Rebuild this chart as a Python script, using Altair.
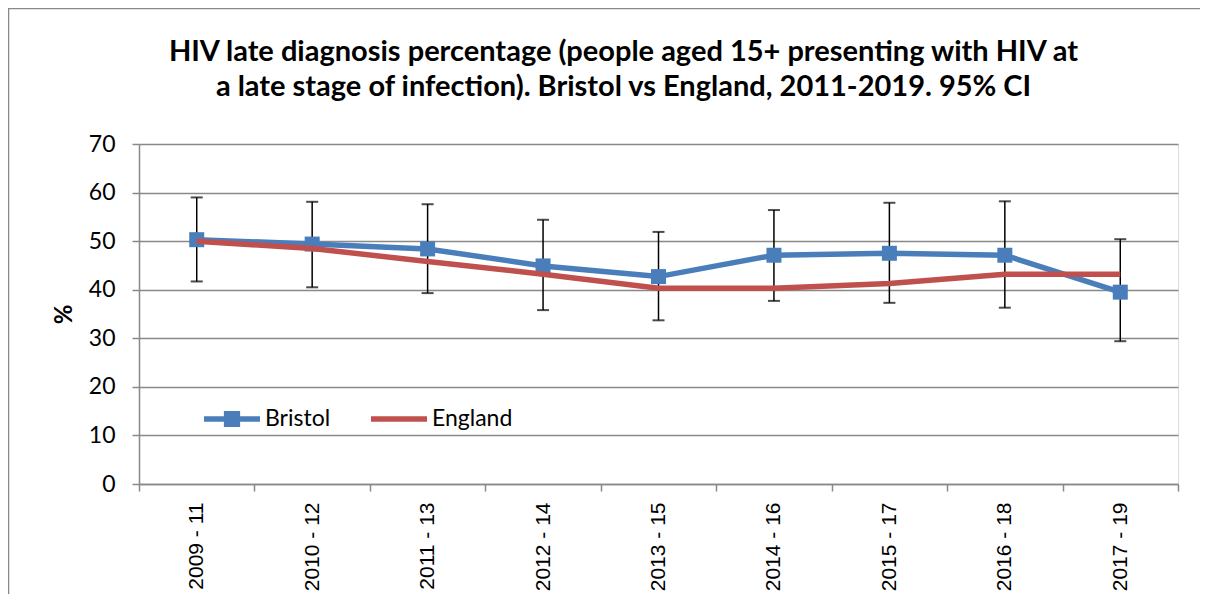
import altair as alt
import pandas as pd

periods = ["2009 - 11", "2010 - 12", "2011 - 13", "2012 - 14", "2013 - 15",
           "2014 - 16", "2015 - 17", "2016 - 18", "2017 - 19"]
bristol = [50.3, 49.4, 48.4, 44.9, 42.7, 47.1, 47.5, 47.1, 39.5]
bristol_lo = [41.7, 40.5, 39.3, 35.8, 33.7, 37.7, 37.3, 36.3, 29.4]
bristol_hi = [59.0, 58.1, 57.6, 54.4, 51.9, 56.4, 57.9, 58.2, 50.4]
england = [50.0, 48.5, 45.8, 43.2, 40.3, 40.3, 41.3, 43.2, 43.2]
series = ["Bristol", "England"]
title_lines = ["HIV late diagnosis percentage (people  aged 15+ presenting with HIV at",
               "a late stage of infection). Bristol vs England, 2011-2019. 95% CI"]
y_ticks = [0, 10, 20, 30, 40, 50, 60, 70]

BLUE = "#4A7EBB"
RED = "#C0504D"
GRID = "#898989"

df = pd.DataFrame({"period": periods, "bristol": bristol, "lo": bristol_lo,
                   "hi": bristol_hi, "england": england})
legend_df = pd.DataFrame({"series": series, "period": [periods[0]] * 2, "v": [0, 0]})

W, H = 1039, 340
PL, PT, PR, PB = 131, 136, 22, 110

x_enc = alt.X("period:N", sort=periods,
              scale=alt.Scale(type="band", paddingInner=0, paddingOuter=0),
              axis=alt.Axis(title=None, labelAngle=270, labelFont="Liberation Sans",
                            labelFontSize=21, labelColor="black", labelPadding=11,
                            tickBand="extent", tickSize=7, tickColor=GRID, tickWidth=1.5,
                            domainColor=GRID, domainWidth=1.5, grid=False))
y_scale = alt.Scale(domain=[0, 70], nice=False)
y_axis = alt.Axis(title="%", values=y_ticks, labelFont="Lato", labelFontSize=23,
                  labelColor="black", labelPadding=17, tickSize=7, tickColor=GRID,
                  tickWidth=1.5, domainColor=GRID, domainWidth=1.5, gridColor=GRID,
                  gridWidth=1.5, titleFont="Lato", titleFontSize=24, titleFontWeight="bold",
                  titleColor="black", titleX=-75, titleY=H / 2, titleAngle=270,
                  titleBaseline="middle", titleAlign="center")

base = alt.Chart(df)

err_rule = base.mark_rule(color="black", strokeWidth=1.5).encode(
    x=x_enc, y=alt.Y("lo:Q", scale=y_scale, axis=y_axis), y2="hi:Q")
cap_hi = base.mark_tick(color="black", size=12, thickness=2).encode(
    x=alt.X("period:N", sort=periods), y=alt.Y("hi:Q"))
cap_lo = base.mark_tick(color="black", size=12, thickness=2).encode(
    x=alt.X("period:N", sort=periods), y=alt.Y("lo:Q"))

b_line = base.mark_line(color=BLUE, strokeWidth=5.5).encode(
    x=alt.X("period:N", sort=periods), y=alt.Y("bristol:Q"))
b_pts = base.mark_point(shape="square", filled=True, color=BLUE, size=225, opacity=1).encode(
    x=alt.X("period:N", sort=periods), y=alt.Y("bristol:Q"))
e_line = base.mark_line(color=RED, strokeWidth=5.5).encode(
    x=alt.X("period:N", sort=periods), y=alt.Y("england:Q"))

path_b = "M-1,-0.1L1,-0.1L1,0.1L-1,0.1ZM-0.29,-0.29L0.29,-0.29L0.29,0.29L-0.29,0.29Z"
path_e = "M-1,-0.1L1,-0.1L1,0.1L-1,0.1Z"
leg = alt.Legend(orient="none", legendX=65, legendY=247, direction="horizontal",
                 columns=2, title=None, symbolSize=3136, symbolStrokeWidth=0,
                 symbolOpacity=1, labelFont="Lato", labelFontSize=23, labelColor="black",
                 labelOffset=5, columnPadding=40, labelLimit=300)
legend_layer = alt.Chart(legend_df).mark_point(filled=True, opacity=0, size=10).encode(
    x=alt.X("period:N", sort=periods), y=alt.Y("v:Q"),
    color=alt.Color("series:N", scale=alt.Scale(domain=series, range=[BLUE, RED]), legend=leg),
    shape=alt.Shape("series:N", scale=alt.Scale(domain=series, range=[path_b, path_e]), legend=leg))

frame_df = pd.DataFrame({"k": [0]})
frame = alt.Chart(frame_df).mark_rect(fill=None, fillOpacity=0, stroke=GRID,
                                      strokeWidth=1.5).encode(
    x=alt.value(-130.5), x2=alt.value(W + PR + 60),
    y=alt.value(-135.5), y2=alt.value(H + PB + 60))

title_mark = alt.Chart(frame_df).mark_text(
    text=title_lines, font="Lato", fontSize=29, fontWeight="bold", color="black",
    align="center", baseline="alphabetic", lineHeight=35).encode(
    x=alt.value(484.5), y=alt.value(-83))

chart = alt.layer(frame, title_mark, err_rule, cap_hi, cap_lo, b_line, b_pts,
                  e_line, legend_layer).properties(
    width=W, height=H,
    autosize=alt.AutoSizeParams(type="none"),
    padding={"left": PL, "top": PT, "right": PR, "bottom": PB},
).configure_view(stroke=None).configure(background="white")

chart.save("out.html", embed_options={"renderer": "svg", "actions": False})
